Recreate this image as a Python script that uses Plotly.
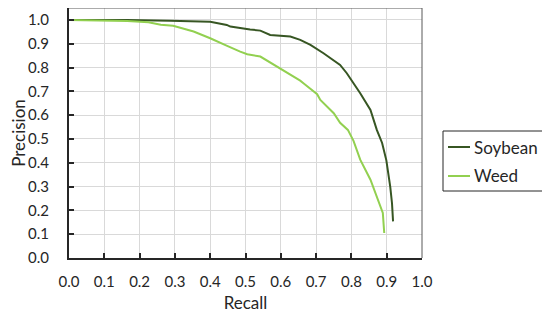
import plotly.graph_objects as go

soy_recall = [0.0, 0.164, 0.287, 0.372, 0.4, 0.447, 0.457, 0.513, 0.542, 0.57, 0.627, 0.655,
              0.684, 0.721, 0.75, 0.768, 0.787, 0.825, 0.854, 0.872, 0.887, 0.899, 0.91, 0.915, 0.918]
soy_precision = [1.0, 1.0, 0.996, 0.994, 0.992, 0.979, 0.972, 0.96, 0.955, 0.937, 0.93, 0.916,
                 0.895, 0.86, 0.832, 0.811, 0.776, 0.692, 0.622, 0.538, 0.483, 0.41, 0.30, 0.23, 0.154]

weed_recall = [0.0, 0.165, 0.225, 0.26, 0.295, 0.353, 0.4, 0.429, 0.448, 0.485, 0.505, 0.542,
               0.598, 0.655, 0.665, 0.703, 0.712, 0.75, 0.768, 0.79, 0.806, 0.825, 0.854,
               0.872, 0.889, 0.893]
weed_precision = [1.0, 0.995, 0.99, 0.98, 0.975, 0.951, 0.923, 0.902, 0.891, 0.867, 0.856, 0.846,
                  0.797, 0.745, 0.733, 0.688, 0.664, 0.608, 0.568, 0.538, 0.492, 0.413, 0.329,
                  0.259, 0.189, 0.105]

series_names = ["Soybean", "Weed"]
series_colors = ["#375623", "#92D050"]

tick_vals = [i / 10 for i in range(11)]
tick_text = [f"{v:.1f}" for v in tick_vals]

FONT = "Lato"

fig = go.Figure()
fig.add_trace(go.Scatter(x=soy_recall, y=soy_precision, mode="lines", name=series_names[0],
                         line=dict(color=series_colors[0], width=2)))
fig.add_trace(go.Scatter(x=weed_recall, y=weed_precision, mode="lines", name=series_names[1],
                         line=dict(color=series_colors[1], width=2)))

# page body has an 8px default margin, so the figure is 542x310 and offset accordingly
fig.update_layout(
    width=542, height=310,
    margin=dict(l=61, r=128, t=0, b=60),
    paper_bgcolor="white", plot_bgcolor="white",
    font=dict(family=FONT, color="#262626", size=15),
    showlegend=False,
)
fig.update_xaxes(range=[0, 1.0], tickvals=tick_vals, ticktext=tick_text,
                 showgrid=True, gridcolor="#d9d9d9", gridwidth=1,
                 showline=True, linecolor="#262626", linewidth=2,
                 ticks="inside", ticklen=5, tickwidth=2, tickcolor="#262626",
                 ticklabelstandoff=9, zeroline=False,
                 title=dict(text="Recall", font=dict(size=17, family=FONT), standoff=8),
                 automargin=False)
fig.update_yaxes(range=[0, 1.05], tickvals=tick_vals, ticktext=tick_text,
                 showgrid=True, gridcolor="#d9d9d9", gridwidth=1,
                 showline=True, linecolor="#262626", linewidth=2,
                 ticks="inside", ticklen=5, tickwidth=2, tickcolor="#262626",
                 ticklabelstandoff=15, zeroline=False,
                 title=dict(text="Precision", font=dict(size=17, family=FONT), standoff=2),
                 automargin=False)
# top and right frame
fig.add_shape(type="line", xref="paper", yref="paper", x0=0, x1=1, y0=1, y1=1,
              line=dict(color="#595959", width=1))
fig.add_shape(type="line", xref="paper", yref="paper", x0=1, x1=1, y0=0, y1=1,
              line=dict(color="#595959", width=1))

# legend box (drawn manually to match the narrow Excel-style legend)
fig.add_shape(type="rect", xref="paper", yref="paper", x0=1.0595, x1=1.3484, y0=0.268, y1=0.508,
              line=dict(color="#262626", width=1), fillcolor="white")
legend_y = [0.444, 0.328]
for name, color, ly in zip(series_names, series_colors, legend_y):
    fig.add_shape(type="line", xref="paper", yref="paper", x0=1.0737, x1=1.136, y0=ly, y1=ly,
                  line=dict(color=color, width=2))
    fig.add_annotation(xref="paper", yref="paper", x=1.1416, y=ly, text=name, showarrow=False,
                       xanchor="left", yanchor="middle", font=dict(size=17, family=FONT, color="#262626"))

fig.write_html("out.html")
